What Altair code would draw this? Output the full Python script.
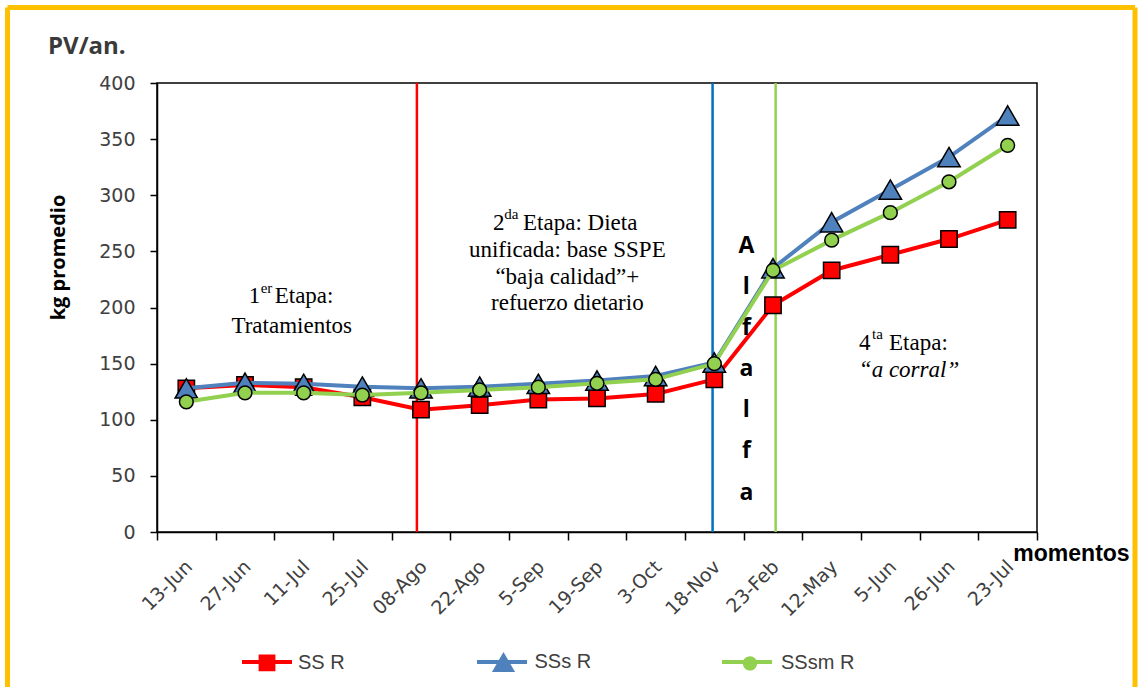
import altair as alt
import pandas as pd

# ---------------- data ----------------
dates = ["13-Jun", "27-Jun", "11-Jul", "25-Jul", "08-Ago", "22-Ago", "5-Sep", "19-Sep",
         "3-Oct", "18-Nov", "23-Feb", "12-May", "5-Jun", "26-Jun", "23-Jul"]
series_names = ["SS R", "SSs R", "SSsm R"]
ss_r = [128, 131, 129, 120, 109, 113, 118, 119, 123, 136, 202, 233, 247, 261, 278]
sss_r = [128, 133, 132, 129.5, 128, 129.5, 132, 135, 139, 151, 235, 276, 305, 334, 371]
sssm_r = [116, 124, 124, 122, 124, 126.5, 129, 132.5, 136, 150, 233, 260, 284.5, 312, 344.5]
y_ticks = [0, 50, 100, 150, 200, 250, 300, 350, 400]

# stage boundaries (category)
stage_cats = ["08-Ago", "18-Nov", "23-Feb"]

# ---------------- styles ----------------
line_colors = ["#FF0000", "#4F81BD", "#92D050"]
fill_colors = ["#FF0000", "#4F81BD", "#92D050"]
_ext = "M-1,0L-1,0M1,0L1,0"
marker_paths = [
    _ext + "M-0.32,-0.32L0.32,-0.32L0.32,0.32L-0.32,0.32Z",
    _ext + "M0,-0.38L0.44,0.38L-0.44,0.38Z",
    _ext + "M0.27,0A0.27,0.27,0,1,1,-0.27,0A0.27,0.27,0,1,1,0.27,0Z",
]
stage_band_pos = [0.43, 0.47, 0.545]
stage_colors = ["#FF0000", "#0070C0", "#92D050"]

rows = []
for name, vals in zip(series_names, [ss_r, sss_r, sssm_r]):
    for d, v in zip(dates, vals):
        rows.append({"fecha": d, "kg": v, "serie": name, "serie_m": name})
df = pd.DataFrame(rows)

TICK_FONT = "DejaVu Sans"
x_scale = alt.Scale(type="band", domain=dates, paddingInner=0, paddingOuter=0)
y_scale = alt.Scale(domain=[0, 400], nice=False)

x_axis = alt.Axis(
    title="momentos", grid=False, tickBand="extent",
    labelAngle=315, labelAlign="right", labelBaseline="top", labelPadding=17, labelOffset=-4,
    tickSize=8, tickWidth=1.5, tickColor="black", domainColor="black", domainWidth=1.5,
    labelFont=TICK_FONT, labelFontSize=19, labelColor="#404040",
    titleFont="Liberation Sans", titleFontSize=23, titleFontWeight="bold", titleColor="black",
    titleX=914, titleY=21, titleAlign="center", titleBaseline="middle",
)
y_axis = alt.Axis(
    title="kg promedio", grid=False, values=y_ticks,
    tickSize=7, tickWidth=1.5, tickColor="black", domainColor="black", domainWidth=1.5,
    labelPadding=15, labelFont=TICK_FONT, labelFontSize=19, labelColor="#404040",
    titleFont="Open Sans", titleFontSize=20, titleFontWeight="bold", titleColor="black",
    titleAngle=270, titleX=-99, titleY=174, titleAlign="center", titleBaseline="middle",
)


def X(**kw):
    return alt.X("fecha:N", scale=x_scale, axis=x_axis, **kw)


Y = alt.Y("kg:Q", scale=y_scale, axis=y_axis)

LEG_FONT = "Liberation Sans Narrow, Arial Narrow, Liberation Sans"
common_leg = dict(title=None, orient="none", legendX=83, legendY=552, direction="horizontal",
                  labelFont=LEG_FONT, labelFontSize=20, labelOffset=4, padding=0)
line_legend = alt.Legend(symbolType="M-1,0L1,0", symbolSize=2500, symbolStrokeWidth=4,
                         columnPadding=124, labelOpacity=0, zindex=0, **common_leg)
marker_legend = alt.Legend(symbolSize=2756, symbolStrokeColor="black", symbolStrokeWidth=1.5,
                           columnPadding=128.5, zindex=1, labelColor="#404040", **common_leg)

color_enc = alt.Color("serie:N", scale=alt.Scale(range=line_colors), legend=line_legend)
fill_enc = alt.Fill("serie_m:N", scale=alt.Scale(range=fill_colors), legend=marker_legend)
shape_enc = alt.Shape("serie_m:N", scale=alt.Scale(range=marker_paths), legend=marker_legend)

layers = []

# stage rules
for cat, bp, col in zip(stage_cats, stage_band_pos, stage_colors):
    layers.append(
        alt.Chart(pd.DataFrame({"fecha": [cat]}))
        .mark_rule(color=col, strokeWidth=2.5)
        .encode(x=X(bandPosition=bp))
    )

# series: line then markers
base = alt.Chart(df)
for name in series_names:
    layers.append(
        base.transform_filter(alt.datum.serie == name)
        .mark_line(strokeWidth=4)
        .encode(x=X(), y=Y, color=color_enc)
    )
    layers.append(
        base.transform_filter(alt.datum.serie == name)
        .mark_point(filled=True, size=2600, stroke="black", strokeWidth=1.5, opacity=1)
        .encode(x=X(), y=Y, fill=fill_enc, shape=shape_enc)
    )


def note(cat, dx, value, text, size=23, font="Liberation Serif", style="normal",
         weight="normal", align="left", line_height=None):
    kw = dict(align=align, baseline="alphabetic", dx=dx, font=font, fontSize=size,
              fontStyle=style, fontWeight=weight, color="black", lineBreak="\n")
    if line_height is not None:
        kw["lineHeight"] = line_height
    src = pd.DataFrame({"fecha": [cat], "kg": [value], "t": [text]})
    return alt.Chart(src).mark_text(**kw).encode(x=X(), y=Y, text="t:N")


# 1st stage
layers += [
    note("27-Jun", 3.7, 204, "1"),
    note("27-Jun", 15.7, 213, "er", size=15),
    note("27-Jun", 29.7, 204, "Etapa:"),
    note("27-Jun", 46.7, 177.3, "Tratamientos", align="center"),
]
# 2nd stage
layers += [
    note("5-Sep", -45.3, 269, "2"),
    note("5-Sep", -34, 279, "da", size=15),
    note("5-Sep", -15.3, 269, "Etapa: Dieta"),
    note("5-Sep", 29, 245, "unificada: base SSPE\n\u201cbaja calidad\u201d+\nrefuerzo dietario",
         align="center", line_height=26.7),
]
# Alfalfa
layers.append(note("18-Nov", 32, 248.6, "A\nl\nf\na\nl\nf\na", size=23, font="Open Sans",
                   weight="bold", align="center", line_height=41.1))
# 4th stage
layers += [
    note("5-Jun", -31.3, 162, "4"),
    note("5-Jun", -18.3, 172, "ta", size=15),
    note("5-Jun", -1.3, 162, "Etapa:"),
    note("5-Jun", 18.7, 138, "\u201ca corral\u201d", style="italic", align="center"),
]

# outer frame
one = pd.DataFrame({"k": [0]})
FR = "#FFC000"
layers += [
    alt.Chart(one).mark_rule(color=FR, strokeWidth=5).encode(
        x=alt.value(-149.5), y=alt.value(-75.5), y2=alt.value(604)),
    alt.Chart(one).mark_rule(color=FR, strokeWidth=5).encode(
        x=alt.value(-149.5), x2=alt.value(978), y=alt.value(-75.5)),
    alt.Chart(one).mark_rule(color=FR, strokeWidth=5).encode(
        x=alt.value(978), y=alt.value(-75.5), y2=alt.value(604)),
]

chart = (
    alt.layer(*layers)
    .properties(
        width=880, height=449,
        padding={"left": 5, "top": 5, "right": 0, "bottom": 0},
        background="white",
        title=alt.TitleParams("PV/an.", anchor="start", frame="group", dx=-109, offset=-73,
                              baseline="alphabetic", font="Open Sans", fontSize=24,
                              fontWeight="bold", color="#3a3a3a"),
    )
    .configure_view(stroke="black", strokeWidth=1.5)
)

chart.save("out.html", embed_options={"renderer": "svg", "actions": False})
